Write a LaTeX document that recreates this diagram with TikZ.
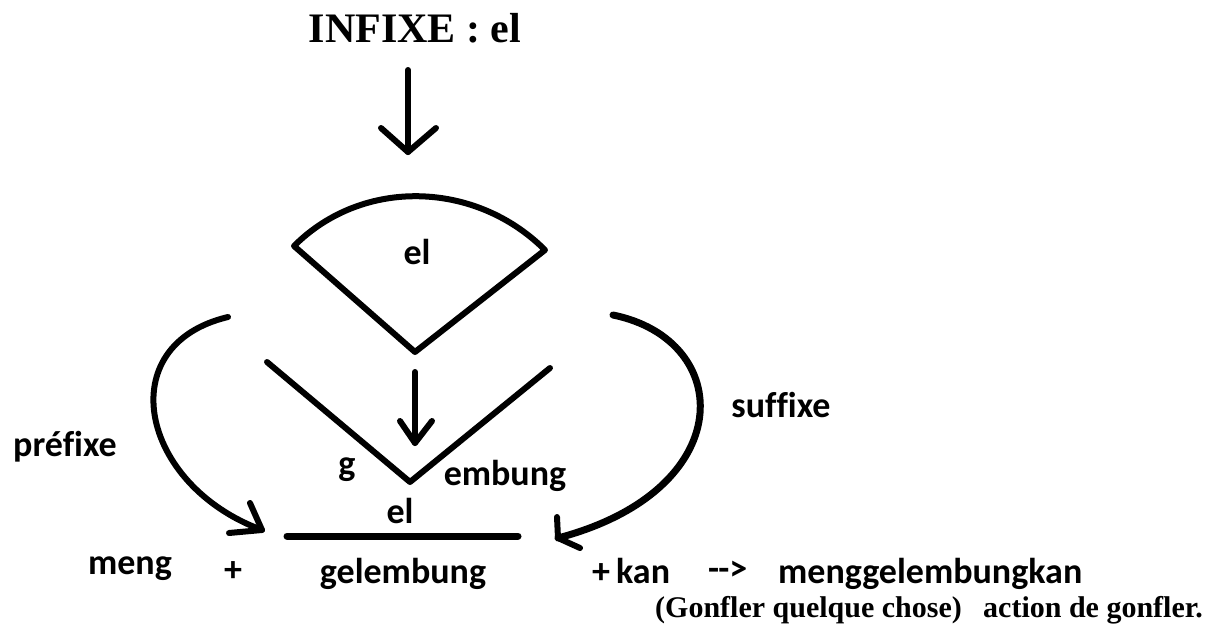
\documentclass[tikz,border=0pt]{standalone}
\usepackage{fontspec}
\newfontfamily\calib[Ligatures=CommonOff]{Carlito}
\newfontfamily\tnr{Liberation Serif}
\tikzset{
  ink/.style={line width=6pt, line cap=round, line join=round},
  lbl/.style={inner sep=0pt, anchor=base, font=\calib\bfseries\fontsize{36}{40}\selectfont},
  lblw/.style={inner sep=0pt, anchor=base west, font=\calib\bfseries\fontsize{36}{40}\selectfont},
  serif/.style={inner sep=0pt, anchor=base west, font=\tnr\bfseries\fontsize{30}{34}\selectfont},
}
\begin{document}
\begin{tikzpicture}[x=1pt, y=-1pt]
\useasboundingbox (0,0) rectangle (1224,632);
% title
\node[inner sep=0pt, anchor=base, font=\tnr\bfseries\fontsize{42}{46}\selectfont] (title) at (415,42) {INFIXE : el};
% top arrow
\coordinate (a1s) at (408,70);
\coordinate (a1t) at (408,152);
\draw[ink] (a1s) -- (a1t);
\draw[ink] (381,128) -- (a1t) -- (436,128);
% fan
\coordinate (fl) at (294,246);
\coordinate (fb) at (415,352);
\coordinate (fr) at (545,250);
\draw[ink] (fb) -- (fl) .. controls (363,177) and (476,181) .. (fr) -- cycle;
\node[lbl] (elfan) at (417,264) {el};
% middle arrow
\coordinate (a2s) at (415,372);
\coordinate (a2t) at (415,443);
\draw[ink] (a2s) -- (a2t);
\draw[ink] (400,421) -- (a2t) -- (432,421);
% V
\coordinate (vl) at (267,362);
\coordinate (vb) at (410,482);
\coordinate (vr) at (550,368);
\draw[ink] (vl) -- (vb) -- (vr);
\node[lbl] (g) at (347,475) {g};
\node[lbl] (embung) at (505,485) {embung};
% bar
\coordinate (bl) at (287,536);
\coordinate (br) at (518,536);
\draw[ink, line width=7pt] (bl) -- (br);
\node[lbl] (elbar) at (400,523) {el};
\node[lbl] (gelembung) at (403,583) {gelembung};
% left curved arrow
\coordinate (ls) at (228,317);
\coordinate (lt) at (262,530);
\draw[ink] (ls) .. controls (110,345) and (140,485) .. (lt);
\draw[ink] (250,503) -- (lt) -- (229,533);
\node[lblw] (prefixe) at (13,456) {préfixe};
\node[lbl] (meng) at (130,574) {meng};
\node[lbl] (plus1) at (233,581) {+};
% right curved arrow
\coordinate (rs) at (613,315);
\coordinate (rt) at (558,538);
\draw[ink, line width=7pt] (rs) .. controls (735,340) and (740,490) .. (rt);
\draw[ink] (557,517) -- (rt) -- (580,548);
\node[lbl] (suffixe) at (781,417) {suffixe};
% bottom row
\node[lblw] (kan) at (592,583) {+\,kan};
\node[lblw] (arr) at (708,580) {-\kern-1pt->};
\node[lblw] (result) at (778,583) {menggelembungkan};
\node[serif] (gloss1) at (655,617) {(Gonfler quelque chose)};
\node[serif] (gloss2) at (983,617) {action de gonfler.};
\end{tikzpicture}
\end{document}
